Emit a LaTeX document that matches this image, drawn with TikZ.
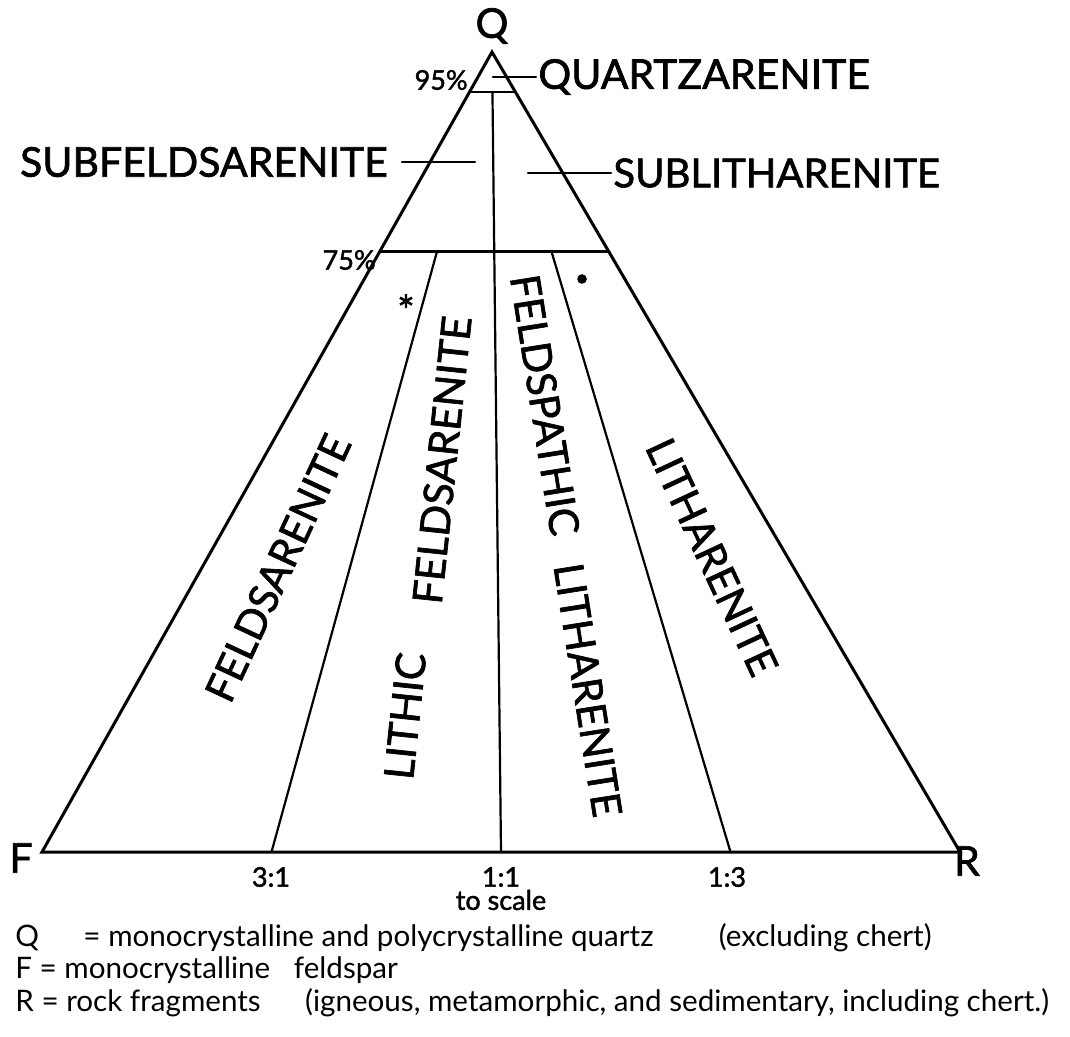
\documentclass[tikz,border=0pt]{standalone}
\usepackage{fontspec}
\setmainfont{Lato}
\newfontfamily\heavyfam{Lato}[FakeBold=1.6]
\usepackage{tikz}
\usetikzlibrary{calc,positioning}

\newcommand{\bigcaps}{\heavyfam\fontsize{20.5}{24}\selectfont}
\newcommand{\fieldcaps}{\heavyfam\fontsize{20.5}{24}\selectfont}
\newcommand{\smalltxt}{\heavyfam\fontsize{13.5}{16}\selectfont}
\newcommand{\legendtxt}{\fontsize{14.8}{17}\selectfont}

\begin{document}
\begin{tikzpicture}[x=0.5pt,y=-0.5pt,line cap=round]
\tikzstyle{rock} = [font=\bigcaps, inner sep=0pt]
\tikzstyle{field} = [font=\fieldcaps, inner sep=0pt]
\tikzstyle{ratio} = [font=\smalltxt, inner sep=0pt]
\tikzstyle{legend} = [font=\legendtxt, inner sep=0pt, anchor=base west]
\tikzstyle{side} = [line width=1.5pt]
\tikzstyle{divide} = [line width=1.1pt]

\useasboundingbox[fill=white] (0,0) rectangle (1070,1037);

% corners of the triangle
\coordinate (Q) at (492,52);
\coordinate (F) at (42,852);
\coordinate (R) at (960,852);

% 95% and 75% quartz lines
\coordinate (q95l) at ($(Q)!0.05!(F)$);
\coordinate (q95r) at ($(Q)!0.05!(R)$);
\coordinate (q75l) at ($(Q)!0.25!(F)$);
\coordinate (q75r) at ($(Q)!0.25!(R)$);

% F:R ratio lines
\coordinate (fr11top) at ($(q95l)!0.5!(q95r)$);
\coordinate (fr31top) at ($(q75l)!0.25!(q75r)$);
\coordinate (fr13top) at ($(q75l)!0.75!(q75r)$);
\coordinate (fr31) at ($(F)!0.25!(R)$);
\coordinate (fr11) at ($(F)!0.5!(R)$);
\coordinate (fr13) at ($(F)!0.75!(R)$);

\draw[side] (F) -- (Q) -- (R) -- cycle;
\draw[divide] (q95l) -- (q95r);
\draw[side] (q75l) -- (q75r);
\draw[divide] (fr11top) -- (fr11);
\draw[divide] (fr31top) -- (fr31);
\draw[divide] (fr13top) -- (fr13);

% corner letters
\node[rock] (qlab) at (492,26) {Q};
\node[rock] (flab) at (21,858) {F};
\node[rock] (rlab) at (967,861) {R};

% percent and ratio marks
\node[ratio, anchor=east] (p95) at (468,80) {95\%};
\node[ratio, anchor=east] (p75) at (376,260) {75\%};
\node[ratio] (r31) at (271,877) {3:1};
\node[ratio] (r11) at (501,877) {1:1};
\node[ratio] (r13) at (727,877) {1:3};
\node[ratio] (scale) at (501,900) {to scale};

% names outside the triangle
\node[rock, anchor=west, inner xsep=1pt] (qzar) at (536,77) {QUARTZARENITE};
\coordinate (qztick) at (493,77);
\draw[divide] (qztick) -- (qzar.west);
\node[rock, anchor=east] (sfar) at (388,162) {SUBFELDSARENITE};
\coordinate (sfa) at (402,162);
\coordinate (sfb) at (475,162);
\draw[divide] (sfa) -- (sfb);
\node[rock, anchor=west, inner xsep=1pt, font=\heavyfam\fontsize{20}{24}\selectfont] (slar) at (611,173) {SUBLITHARENITE};
\coordinate (sltick) at (528,173);
\draw[divide] (sltick) -- (slar.west);

% names inside the triangle
\node[field, rotate=65] (feld) at (278,568) {FELDSARENITE};
\node[field, rotate=84] (lith) at (405,716) {LITHIC};
\node[field, rotate=84] (lfeld) at (442,460) {FELDSARENITE};
\node[field, rotate=-81] (fsp) at (545,405) {FELDSPATHIC};
\node[field, rotate=-81] (flith) at (588,690) {LITHARENITE};
\node[field, rotate=-65] (lar) at (712,557) {LITHARENITE};
\node[font=\fieldcaps, inner sep=0pt] (star) at (406,310) {*};
\node[circle, fill, inner sep=1.7pt] (dot) at (582,279) {};

% legend
\node[legend] (legq) at (15,946) {Q\hspace{1.5em}= monocrystalline and polycrystalline quartz\hspace{2.2em}(excluding chert)};
\node[legend] (legf) at (15,978) {F = monocrystalline\hspace{0.8em}feldspar};
\node[legend] (legr) at (15,1011) {R = rock fragments\hspace{1.5em}(igneous, metamorphic, and sedimentary, including chert.)};
\end{tikzpicture}
\end{document}
